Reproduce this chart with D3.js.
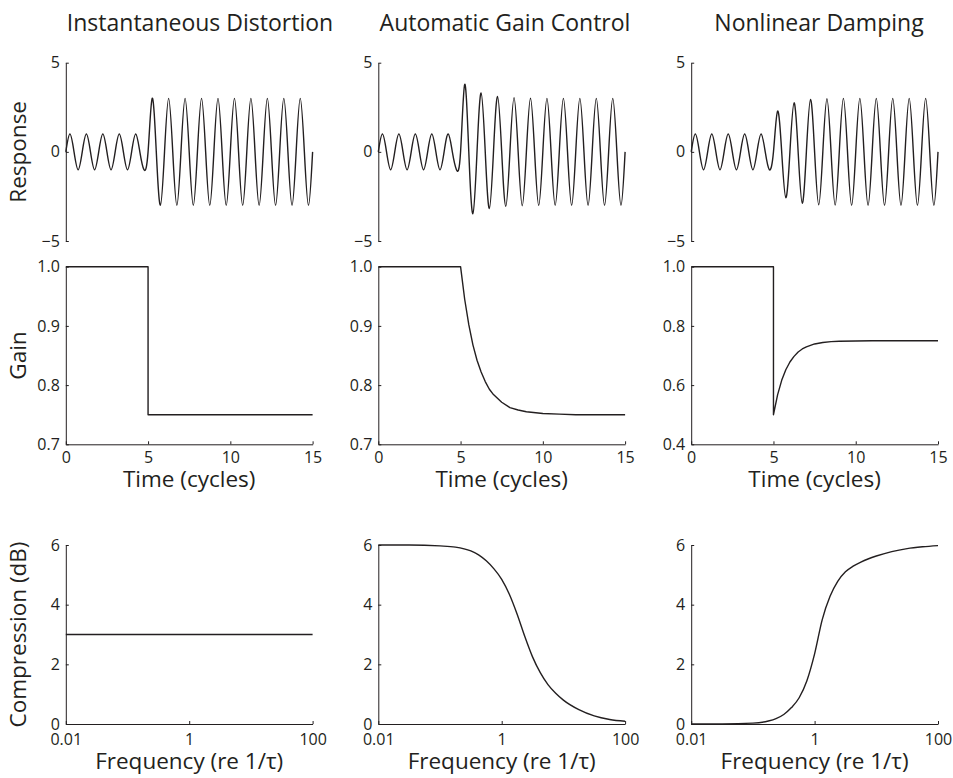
<!DOCTYPE html>
<html><head><meta charset="utf-8">
<script src="https://cdn.jsdelivr.net/npm/d3@7"></script>
<style>
body{margin:0;background:#fff;}
svg text{font-family:"Open Sans",sans-serif;fill:#231f20;}
</style></head>
<body><svg id="c" width="953" height="778"></svg>
<script>
// ---------- data ----------
const titles = ["Instantaneous Distortion", "Automatic Gain Control", "Nonlinear Damping"];
const rowLabels = ["Response", "Gain", "Compression (dB)"];
const timeLabel = "Time (cycles)";
const freqLabel = "Frequency (re 1/\u03C4)";

// Response: peak amplitude of each half-cycle (30 half-cycles over 15 cycles)
const peaksID  = [1,1,1,1,1,1,1,1,1,1, 3,3,3,3,3,3,3,3,3,3, 3,3,3,3,3,3,3,3,3,3];
const peaksAGC = [1,1,1,1,1,1,1,1,1,1, 3.78,3.47,3.30,3.18,3.11,3.06,3.04,3.02,3.01,3.01, 3,3,3,3,3,3,3,3,3,3];
const peaksND  = [1,1,1,1,1,1,1,1,1,1, 2.28,2.57,2.75,2.88,2.94,2.97,2.98,2.99,3.0,3.0, 3,3,3,3,3,3,3,3,3,3];

// Gain vs time
const gainTimeID  = [0,5,5,15];
const gainID      = [1,1,0.75,0.75];
const gainTimeAGC = [0,5,5.25,5.5,5.75,6,6.25,6.5,6.75,7,7.5,8,8.5,9,10,11,12,13,15];
const gainAGC     = [1,1,0.945,0.902,0.868,0.842,0.822,0.806,0.793,0.784,0.771,0.762,0.758,0.755,0.752,0.751,0.75,0.75,0.75];
const gainTimeND  = [0,5,5,5.25,5.5,5.75,6,6.25,6.5,6.75,7,7.5,8,8.5,9,10,11,12,15];
const gainND      = [1,1,0.5,0.567,0.616,0.652,0.678,0.697,0.712,0.722,0.729,0.739,0.744,0.747,0.748,0.749,0.75,0.75,0.75];

// Compression vs frequency
const freqsID = [0.01,100];
const compID  = [3,3];
const freqsAGC = [0.01,0.0316,0.1,0.178,0.316,0.422,0.562,0.750,1,1.33,1.78,2.37,3.16,4.22,5.62,7.50,10,17.8,31.6,56.2,100];
const compAGC  = [6.0,6.0,5.97,5.93,5.8,5.67,5.47,5.2,4.85,4.35,3.68,2.93,2.25,1.72,1.32,1.03,0.8,0.48,0.27,0.15,0.09];
const freqsND  = [0.01,0.0316,0.1,0.178,0.237,0.316,0.422,0.562,0.750,1,1.33,1.78,2.37,3.16,4.22,5.62,7.50,10,17.8,31.6,56.2,100];
const compND   = [0,0.002,0.03,0.1,0.18,0.32,0.55,0.88,1.45,2.35,3.5,4.28,4.78,5.1,5.29,5.43,5.54,5.63,5.78,5.88,5.94,5.98];

const respTicks = [-5,0,5];
const gainTicksA = [0.7,0.8,0.9,1.0];
const gainTicksB = [0.4,0.6,0.8,1.0];
const timeTicks = [0,5,10,15];
const compTicks = [0,2,4,6];
const freqTicks = [0.01,1,100];
const freqTickLabels = ["0.01","1","100"];

// ---------- layout ----------
const ink = "#231f20";
const colX = [65.8, 378.3, 691.2], colW = 246.8;
const rowTop = [62.7, 266.7, 545], rowBot = [241, 444.3, 724];
const titleX = [200, 505, 819];

const svg = d3.select("#c");

function styleAxis(g, fs){
  g.select(".domain").attr("stroke", ink).attr("stroke-width", 1);
  g.selectAll(".tick line").attr("stroke", ink).attr("stroke-width", 1);
  g.selectAll(".tick text").attr("fill", ink).style("font-size", fs+"px")
    .style("font-family", '"Open Sans",sans-serif');
}

// titles
titles.forEach((t,i)=>{
  svg.append("text").attr("x", titleX[i]).attr("y", 30.5)
    .attr("text-anchor","middle").style("font-size","23px").text(t);
});
// row labels
rowLabels.forEach((t,r)=>{
  const cy = (rowTop[r]+rowBot[r])/2;
  svg.append("text").attr("transform", `translate(25.5,${cy}) rotate(-90)`)
    .attr("text-anchor","middle").style("font-size","22.5px").text(t);
});

const respPeaks = [peaksID, peaksAGC, peaksND];
const gainT = [gainTimeID, gainTimeAGC, gainTimeND];
const gainV = [gainID, gainAGC, gainND];
const compF = [freqsID, freqsAGC, freqsND];
const compV = [compID, compAGC, compND];

for (let c=0;c<3;c++){
  const x0 = colX[c], x1 = colX[c]+colW;

  // ---- Row 1: response ----
  {
    const xs = d3.scaleLinear().domain([0,15]).range([x0,x1]);
    const ys = d3.scaleLinear().domain([-5,5]).range([rowBot[0], rowTop[0]]);
    const ya = svg.append("g").attr("transform",`translate(${x0},0)`)
      .call(d3.axisLeft(ys).tickValues(respTicks).tickSizeInner(-3).tickSizeOuter(0).tickPadding(6));
    styleAxis(ya, 16);
    // quarter-cycle points: zero crossings and half-cycle peaks
    const pts = [];
    const pk = respPeaks[c];
    for (let k=0;k<=pk.length*2;k++){
      const t = k*0.25;
      let v = 0;
      if (k%2===1){ const j=(k-1)/2; v = (j%2===0?1:-1)*pk[j]; }
      pts.push([t,v]);
    }
    svg.append("path").datum(pts)
      .attr("d", d3.line().x(d=>xs(d[0])).y(d=>ys(d[1])).curve(d3.curveNatural))
      .attr("fill","none").attr("stroke", ink).attr("stroke-width",1.4);
  }

  // ---- Row 2: gain ----
  {
    const dom = c===2 ? [0.4,1] : [0.7,1];
    const yt = c===2 ? gainTicksB : gainTicksA;
    const xs = d3.scaleLinear().domain([0,15]).range([x0,x1]);
    const ys = d3.scaleLinear().domain(dom).range([rowBot[1], rowTop[1]]);
    const ya = svg.append("g").attr("transform",`translate(${x0},0)`)
      .call(d3.axisLeft(ys).tickValues(yt).tickFormat(d3.format(".1f")).tickSizeInner(-3).tickSizeOuter(0).tickPadding(6));
    styleAxis(ya, 16);
    const xa = svg.append("g").attr("transform",`translate(0,${rowBot[1]})`)
      .call(d3.axisBottom(xs).tickValues(timeTicks).tickFormat(d3.format("d")).tickSizeInner(-3).tickSizeOuter(0).tickPadding(7));
    styleAxis(xa, 16);
    const pts = gainT[c].map((t,i)=>[t, gainV[c][i]]);
    svg.append("path").datum(pts)
      .attr("d", d3.line().x(d=>xs(d[0])).y(d=>ys(d[1])))
      .attr("fill","none").attr("stroke", ink).attr("stroke-width",1.4).attr("stroke-linejoin","round");
    svg.append("text").attr("x",(x0+x1)/2).attr("y",487).attr("text-anchor","middle")
      .style("font-size","22.5px").text(timeLabel);
  }

  // ---- Row 3: compression ----
  {
    const xs = d3.scaleLog().domain([0.01,100]).range([x0,x1]);
    const ys = d3.scaleLinear().domain([0,6]).range([rowBot[2], rowTop[2]]);
    const ya = svg.append("g").attr("transform",`translate(${x0},0)`)
      .call(d3.axisLeft(ys).tickValues(compTicks).tickFormat(d3.format("d")).tickSizeInner(-3).tickSizeOuter(0).tickPadding(6));
    styleAxis(ya, 16);
    const xa = svg.append("g").attr("transform",`translate(0,${rowBot[2]})`)
      .call(d3.axisBottom(xs).tickValues(freqTicks).tickFormat((d,i)=>freqTickLabels[i]).tickSizeInner(-3).tickSizeOuter(0).tickPadding(9.5));
    styleAxis(xa, 16);
    const pts = compF[c].map((f,i)=>[f, compV[c][i]]);
    svg.append("path").datum(pts)
      .attr("d", d3.line().x(d=>xs(d[0])).y(d=>ys(d[1])).curve(d3.curveMonotoneX))
      .attr("fill","none").attr("stroke", ink).attr("stroke-width",1.4);
    svg.append("text").attr("x",(x0+x1)/2).attr("y",769).attr("text-anchor","middle")
      .style("font-size","22.5px").text(freqLabel);
  }
}
</script></body></html>
